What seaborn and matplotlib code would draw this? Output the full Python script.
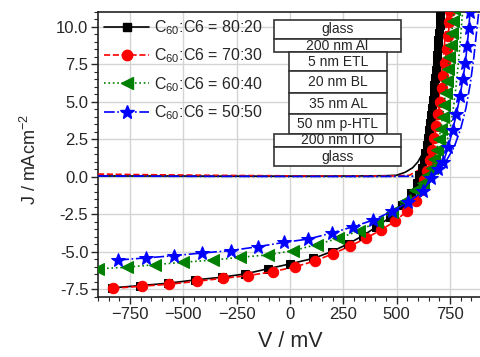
import numpy as np
import pandas as pd
import matplotlib
matplotlib.use("Agg")
import matplotlib.pyplot as plt
from matplotlib.patches import Rectangle
from matplotlib.lines import Line2D
import seaborn as sns

sns.set_style("ticks")
plt.rcParams['font.family'] = ['Liberation Sans', 'DejaVu Sans']
plt.rcParams['mathtext.fontset'] = 'custom'
plt.rcParams['mathtext.rm'] = 'Liberation Sans'
plt.rcParams['mathtext.default'] = 'regular'

# J-V data (V in mV, J in mA/cm2)
ratios = ['80:20', '70:30', '60:40', '50:50']
colors = ['black', '#ff0000', '#008000', '#0000ff']
styles = ['-', '--', ':', '-.']
markers = ['s', 'o', '<', '*']
msizes = [6, 7.5, 8, 10]

# illuminated
v_light_8020 = [-836, -703, -570, -445, -320, -211, -105, 0, 110, 195, 270, 340, 405, 470, 525, 565,
                594, 606, 617, 626, 634, 641, 647, 653, 658, 662, 666, 670, 674, 677, 681, 684,
                687, 690, 693, 696, 698, 701, 703, 705]
j_light_8020 = [-7.42, -7.27, -7.11, -6.89, -6.71, -6.49, -6.15, -5.82, -5.45, -5.0, -4.5, -3.95, -3.35, -2.7, -1.9, -1.1,
                -0.45, 0.1, 0.6, 1.1, 1.6, 2.1, 2.6, 3.1, 3.6, 4.1, 4.6, 5.1, 5.6, 6.1, 6.6, 7.1,
                7.6, 8.1, 8.6, 9.1, 9.6, 10.1, 10.6, 11.1]
v_light_7030 = [-828, -695, -567, -437, -312, -195, -78, 23, 117, 200, 281, 356, 425, 492, 547, 592,
                612, 628, 642, 655, 666, 676, 686, 695, 703, 711, 719, 727, 734, 741, 747, 752]
j_light_7030 = [-7.45, -7.31, -7.18, -6.98, -6.78, -6.6, -6.33, -6.02, -5.62, -5.15, -4.63, -4.11, -3.56, -2.98, -2.31, -1.6,
                -0.9, -0.25, 0.4, 1.1, 1.8, 2.6, 3.4, 4.2, 5.0, 5.9, 6.7, 7.6, 8.5, 9.4, 10.3, 11.1]
v_light_6040 = [-899, -766, -633, -500, -360, -234, -105, 16, 125, 227, 325, 410, 480, 540, 585,
                625, 648, 664, 677, 688, 698, 707, 715, 722, 729, 735, 741, 747, 753, 758, 764, 769]
j_light_6040 = [-6.15, -6.04, -5.87, -5.71, -5.56, -5.38, -5.22, -4.93, -4.53, -4.11, -3.6, -3.0, -2.35, -1.6, -0.9,
                -0.45, 0.1, 0.6, 1.2, 1.8, 2.5, 3.2, 4.0, 4.8, 5.6, 6.4, 7.2, 8.0, 8.8, 9.6, 10.4, 11.2]
v_light_5050 = [-805, -675, -543, -411, -278, -151, -27, 86, 195, 297, 391, 477, 555, 622,
                660, 695, 719, 742, 762, 780, 797, 810, 822, 830, 838, 844]
j_light_5050 = [-5.56, -5.42, -5.27, -5.09, -4.93, -4.67, -4.38, -4.16, -3.76, -3.33, -2.89, -2.31, -1.71, -0.98,
                -0.1, 0.55, 1.0, 2.0, 3.1, 4.2, 5.4, 6.5, 7.6, 8.7, 9.9, 11.0]

# dark
v_dark_8020 = [-900, -600, -300, 0, 300, 450, 500, 540, 575, 600, 620, 640, 655, 668, 680, 692, 702, 712, 722]
j_dark_8020 = [0.05, 0.05, 0.04, 0.04, 0.05, 0.07, 0.1, 0.3, 0.6, 1.0, 1.5, 2.3, 3.2, 4.3, 5.6, 7.0, 8.5, 10.0, 11.5]
v_dark_7030 = [-900, -700, -400, 0, 300, 500, 560, 610, 640, 662, 680, 695, 708, 720, 730, 740]
j_dark_7030 = [0.18, 0.14, 0.1, 0.06, 0.05, 0.06, 0.1, 0.5, 1.2, 2.2, 3.5, 4.9, 6.5, 8.2, 9.8, 11.3]
v_dark_6040 = [-900, -500, 0, 400, 550, 600, 660, 700, 730, 750, 765, 778, 790, 800, 810]
j_dark_6040 = [0.05, 0.03, 0.02, 0.02, 0.03, 0.05, 0.3, 1.0, 2.0, 3.2, 4.5, 6.0, 7.7, 9.4, 11.2]
v_dark_5050 = [-900, -500, 0, 400, 580, 620, 680, 730, 770, 800, 825, 845, 862, 877, 887]
j_dark_5050 = [0.05, 0.03, 0.02, 0.02, 0.03, 0.05, 0.3, 1.0, 2.0, 3.2, 4.6, 6.2, 8.0, 10.0, 11.3]

light = [(v_light_8020, j_light_8020), (v_light_7030, j_light_7030),
         (v_light_6040, j_light_6040), (v_light_5050, j_light_5050)]
dark = [(v_dark_8020, j_dark_8020), (v_dark_7030, j_dark_7030),
        (v_dark_6040, j_dark_6040), (v_dark_5050, j_dark_5050)]

layers = ['glass', '200 nm Al', '5 nm ETL', '20 nm BL', '35 nm AL', '50 nm p-HTL', '200 nm ITO', 'glass']

fig = plt.figure(figsize=(4.8, 3.57), dpi=100)
W, H = 480.0, 357.0
ax = fig.add_axes([98 / W, 1 - 297 / H, 384 / W, 285 / H])

for i in range(4):
    vd, jd = dark[i]
    sns.lineplot(x=vd, y=jd, ax=ax, color=colors[i], linestyle=styles[i], lw=1.2,
                 estimator=None, sort=False, zorder=3)
    vl, jl = light[i]
    sns.lineplot(x=vl, y=jl, ax=ax, color=colors[i], linestyle=styles[i], lw=1.2,
                 marker=markers[i], markersize=msizes[i], markeredgecolor=colors[i],
                 estimator=None, sort=False, zorder=4)

ax.set_xlim(-900, 900)
ax.set_ylim(-8.03, 11.0)
ax.set_xticks([-750, -500, -250, 0, 250, 500, 750])
ax.set_yticks([-7.5, -5.0, -2.5, 0.0, 2.5, 5.0, 7.5, 10.0])
ax.set_yticklabels(['-7.5', '-5.0', '-2.5', '0.0', '2.5', '5.0', '7.5', '10.0'])
ax.set_xticks(np.arange(-900, 901, 50), minor=True)
ax.set_yticks(np.arange(-8.0, 11.01, 0.5), minor=True)
ax.tick_params(which='major', direction='out', length=5, width=1, labelsize=12, pad=2)
ax.tick_params(which='minor', direction='out', length=3, width=0.8)
ax.grid(True, which='major', color='#d4d4d4', lw=1)
ax.set_axisbelow(True)
for s in ax.spines.values():
    s.set_linewidth(1.2)
    s.set_color('#222222')

ax.set_xlabel('V / mV', fontsize=15.5)
ax.set_ylabel('J / mAcm$^{-2}$', fontsize=13)
ax.xaxis.set_label_coords(0.5, -0.12)
ax.yaxis.set_label_coords(-0.15, 0.484)

handles = [Line2D([], [], color=colors[i], linestyle=styles[i], lw=1.2, marker=markers[i],
                  markersize=msizes[i], markeredgecolor=colors[i]) for i in range(4)]
labels = ['C$_{60}$:C6 = ' + r for r in ratios]
ax.legend(handles, labels, loc='upper left', bbox_to_anchor=(0.0, 1.0), frameon=False,
          fontsize=11.5, handlelength=2.8, handletextpad=0.3, labelspacing=0.6,
          borderaxespad=0.1, borderpad=0.3)

# device stack inset
boxes = [(274, 401, 20, 39), (274, 401, 39, 52), (289, 387, 52, 71), (289, 387, 71, 93),
         (289, 387, 93, 114), (289, 387, 114, 134), (274, 401, 134, 147), (274, 401, 147, 166)]
for (x0, x1, y0, y1), name in zip(boxes, layers):
    fig.add_artist(Rectangle((x0 / W, 1 - y1 / H), (x1 - x0) / W, (y1 - y0) / H,
                             transform=fig.transFigure, facecolor='white',
                             edgecolor='#333333', lw=1.2, zorder=6))
    fig.text((x0 + x1) / 2 / W, 1 - (y0 + y1) / 2 / H, name, ha='center', va='center',
             fontsize=10, zorder=7)

fig.savefig('out.png', dpi=100)
